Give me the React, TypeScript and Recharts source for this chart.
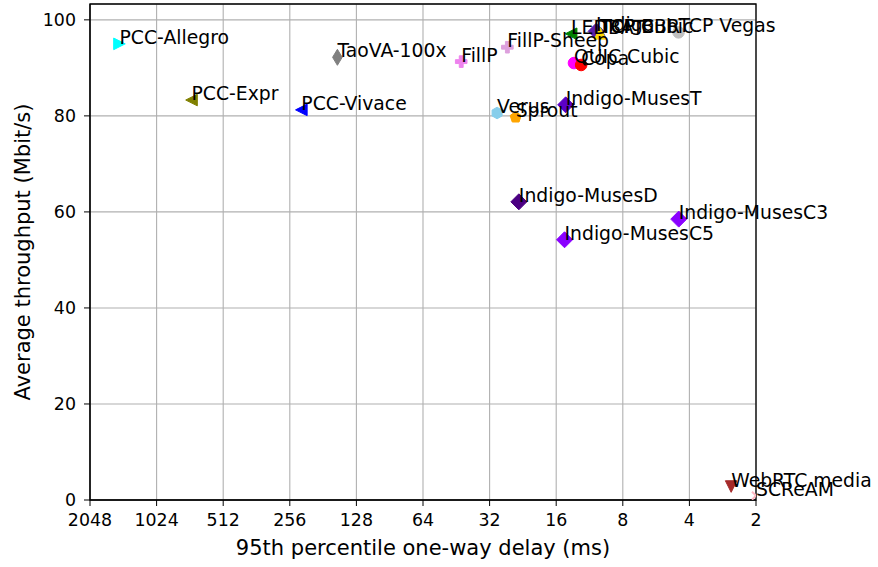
import { ScatterChart, Scatter, XAxis, YAxis, CartesianGrid, ReferenceArea, ReferenceDot } from 'recharts';

const schemes = [
  'PCC-Allegro', 'PCC-Expr', 'PCC-Vivace', 'TaoVA-100x', 'FillP', 'FillP-Sheep',
  'Verus', 'Sprout', 'Indigo-MusesD', 'Indigo-MusesT', 'Indigo-MusesC5', 'Indigo-MusesC3',
  'LEDBAT', 'Indigo', 'TCP BBR', 'TCP Cubic', 'TCP Vegas', 'QUIC Cubic', 'Copa',
  'WebRTC media', 'SCReAM',
];
const delays = [
  1507, 712, 227, 156, 43.0, 26.6,
  29.6, 24.4, 23.6, 14.5, 14.67, 4.47,
  13.7, 10.56, 10.1, 10.13, 4.48, 13.3, 12.34,
  2.59, 2.0,
];
const throughputs = [
  95.0, 83.3, 81.25, 92.2, 91.3, 94.3,
  80.6, 79.7, 62.1, 82.3, 54.2, 58.5,
  97.1, 97.6, 97.3, 97.2, 97.4, 91.0, 90.6,
  2.8, 0.9,
];
const colors = [
  '#00ffff', '#808000', '#0000ff', '#808080', '#ee82ee', '#dda0dd',
  '#87ceeb', '#ffa500', '#4b0082', '#5c00c7', '#8a00ff', '#8a00ff',
  '#008000', '#5b1fa8', '#1f3fbf', '#ffd700', '#c0c0c0', '#ff00ff', '#ff0000',
  '#a52a2a', '#ffb6c1',
];
const markers = [
  '>', '<', '<', 'd', 'P', 'P',
  'h', 'p', 'D', 'D', 'D', 'D',
  '<', 'D', '^', '^', 'o', 'o', 'o',
  'v', 'x',
];
const delayTicks = [2048, 1024, 512, 256, 128, 64, 32, 16, 8, 4, 2];
const throughputTicks = [0, 20, 40, 60, 80, 100];

const data = schemes.map((name, i) => ({
  name,
  delay: delays[i],
  thr: throughputs[i],
  color: colors[i],
  marker: markers[i],
}));

const FONT = 'DejaVu Sans, sans-serif';
const TICK_FS = 17.4;
const NOTE_FS = 18.8;
const LABEL_FS = 21;

const poly = (cx: number, cy: number, r: number, n: number) =>
  Array.from({ length: n }, (_, k) => {
    const a = Math.PI / 2 + (k * 2 * Math.PI) / n;
    return `${cx + r * Math.cos(a)},${cy - r * Math.sin(a)}`;
  }).join(' ');

const Marker = (props: any) => {
  const { cx, cy, payload } = props;
  if (cx == null || cy == null) return null;
  const c = payload.color;
  const r = 5.8;
  const common = { fill: c, stroke: c, strokeWidth: 1 };
  switch (payload.marker) {
    case '>':
      return <polygon points={`${cx + r},${cy} ${cx - r},${cy - r} ${cx - r},${cy + r}`} {...common} />;
    case '<':
      return <polygon points={`${cx - r},${cy} ${cx + r},${cy - r} ${cx + r},${cy + r}`} {...common} />;
    case '^':
      return <polygon points={`${cx},${cy - r} ${cx - r},${cy + r} ${cx + r},${cy + r}`} {...common} />;
    case 'v':
      return <polygon points={`${cx},${cy + r} ${cx - r},${cy - r} ${cx + r},${cy - r}`} {...common} />;
    case 'D': {
      const h = 8;
      return <polygon points={`${cx},${cy - h} ${cx + h},${cy} ${cx},${cy + h} ${cx - h},${cy}`} {...common} />;
    }
    case 'd': {
      const h = 8;
      const w = 4.8;
      return <polygon points={`${cx},${cy - h} ${cx + w},${cy} ${cx},${cy + h} ${cx - w},${cy}`} {...common} />;
    }
    case 'P': {
      const a = r;
      const t = r / 3;
      const pts = [
        [-t, -a], [t, -a], [t, -t], [a, -t], [a, t], [t, t],
        [t, a], [-t, a], [-t, t], [-a, t], [-a, -t], [-t, -t],
      ].map(([x, y]) => `${cx + x},${cy + y}`).join(' ');
      return <polygon points={pts} {...common} />;
    }
    case 'h':
      return <polygon points={poly(cx, cy, r, 6)} {...common} />;
    case 'p':
      return <polygon points={poly(cx, cy, r, 5)} {...common} />;
    case 'x':
      return (
        <g stroke={c} strokeWidth={2}>
          <line x1={cx - 4} y1={cy - 4} x2={cx + 4} y2={cy + 4} />
          <line x1={cx - 4} y1={cy + 4} x2={cx + 4} y2={cy - 4} />
        </g>
      );
    default:
      return <circle cx={cx} cy={cy} r={r} {...common} />;
  }
};

export default function App() {
  return (
    <div style={{ width: 878, height: 567 }}>
      <style>{'body { margin: 0; }'}</style>
      <ScatterChart width={878} height={567} margin={{ top: 4, right: 122, bottom: 0, left: 0 }}>
        <CartesianGrid stroke="#b0b0b0" strokeWidth={1.1} />
        <XAxis
          type="number"
          dataKey="delay"
          scale="log"
          domain={[2, 2048]}
          ticks={delayTicks}
          reversed
          allowDataOverflow
          height={67}
          tickSize={6}
          tickMargin={8}
          stroke="#000"
          tick={{ fill: '#000', fontSize: TICK_FS, fontFamily: FONT }}
          tickFormatter={(v) => String(v)}
          label={{
            content: (p: any) => {
              const vb = p.viewBox || { x: 90, y: 500, width: 666 };
              return (
                <text x={vb.x + vb.width / 2} y={vb.y + 55} textAnchor="middle" fontSize={LABEL_FS} fontFamily={FONT} fill="#000">
                  95th percentile one-way delay (ms)
                </text>
              );
            },
          }}
        />
        <YAxis
          type="number"
          dataKey="thr"
          domain={[0, 103.3]}
          ticks={throughputTicks}
          allowDataOverflow
          width={90}
          tickSize={6}
          tickMargin={8}
          stroke="#000"
          tick={{ fill: '#000', fontSize: TICK_FS, fontFamily: FONT }}
          label={{
            content: (p: any) => {
              const vb = p.viewBox || { x: 0, y: 4, height: 496 };
              const x = vb.x + 30;
              const y = vb.y + vb.height / 2;
              return (
                <text x={x} y={y} transform={`rotate(-90, ${x}, ${y})`} textAnchor="middle" fontSize={LABEL_FS} fontFamily={FONT} fill="#000">
                  Average throughput (Mbit/s)
                </text>
              );
            },
          }}
        />
        <ReferenceArea x1={2048} x2={2} y1={0} y2={103.3} fill="none" stroke="#000" strokeWidth={1.3} ifOverflow="visible" />
        <Scatter data={data} shape={Marker} isAnimationActive={false} />
        {data.map((d) => (
          <ReferenceDot
            key={d.name}
            x={d.delay}
            y={d.thr}
            r={1}
            ifOverflow="visible"
            shape={(p: any) => (
              <text x={p.cx} y={p.cy} fontSize={NOTE_FS} fontFamily={FONT} fill="#000">
                {d.name}
              </text>
            )}
          />
        ))}
      </ScatterChart>
    </div>
  );
}
